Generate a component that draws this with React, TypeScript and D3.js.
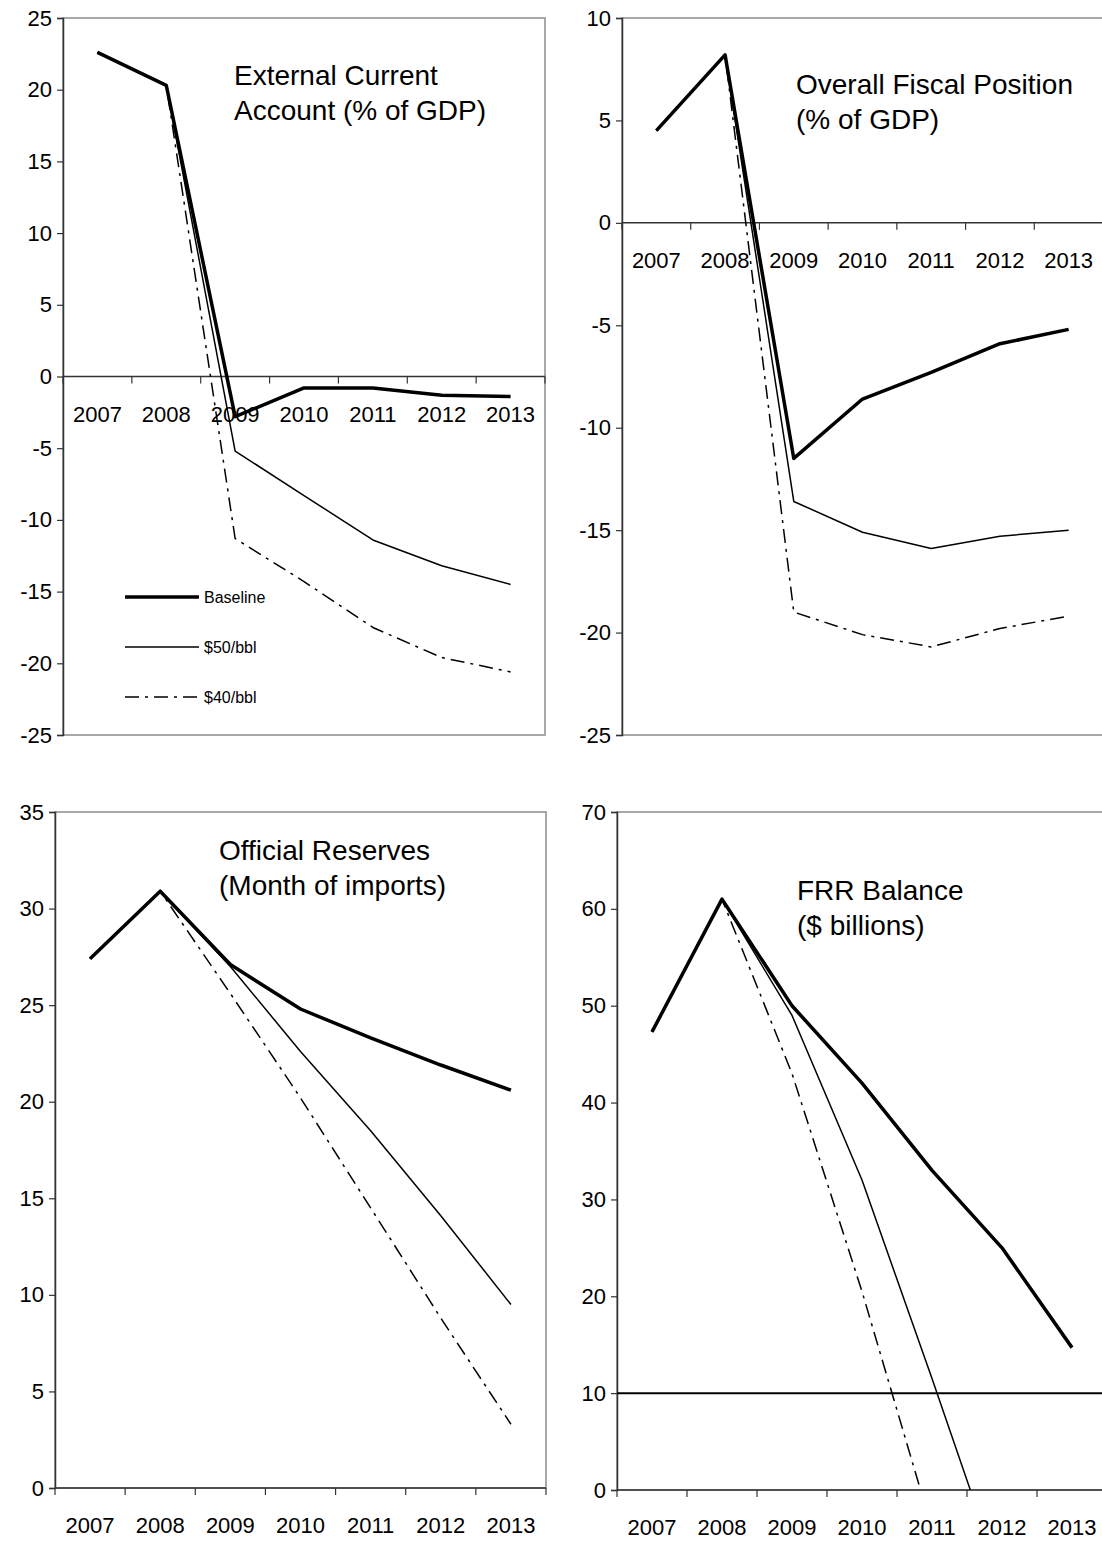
import React, { useEffect, useRef } from 'react'
import * as d3 from 'd3'

// categories
const years = ['2007', '2008', '2009', '2010', '2011', '2012', '2013']

// External current account (% of GDP)
const currentBaseline = [22.6, 20.3, -2.8, -0.8, -0.8, -1.3, -1.4]
const current50 = [22.6, 20.3, -5.2, -8.3, -11.4, -13.2, -14.5]
const current40 = [22.6, 20.3, -11.3, -14.3, -17.5, -19.6, -20.6]

// Overall fiscal position (% of GDP)
const fiscalBaseline = [4.5, 8.2, -11.5, -8.6, -7.3, -5.9, -5.2]
const fiscal50 = [4.5, 8.2, -13.6, -15.1, -15.9, -15.3, -15.0]
const fiscal40 = [4.5, 8.2, -19.0, -20.1, -20.7, -19.8, -19.2]

// Official reserves (months of imports)
const reservesBaseline = [27.4, 30.9, 27.1, 24.8, 23.3, 21.9, 20.6]
const reserves50 = [27.4, 30.9, 27.0, 22.6, 18.5, 14.1, 9.5]
const reserves40 = [27.4, 30.9, 25.6, 20.2, 14.5, 8.8, 3.3]

// FRR balance ($ billions) - below zero is clipped by the axis
const frrBaseline = [47.3, 61.0, 50.0, 42.0, 33.0, 25.0, 14.7]
const frr50 = [47.3, 61.0, 49.0, 32.0, 11.5, -9.5, null]
const frr40 = [47.3, 61.0, 43.0, 20.5, -4.0, null, null]

const seriesNames = ['Baseline', '$50/bbl', '$40/bbl']

type Panel = {
    title: string[]
    titleX: number
    titleY: number
    left: number
    right: number
    top: number
    bottom: number
    domain: [number, number]
    step: number
    series: (number | null)[][]
    refLine?: number
    legend?: boolean
}

const panels: Panel[] = [
    { title: ['External Current', 'Account (% of GDP)'], titleX: 234, titleY: 85, left: 63, right: 545, top: 18, bottom: 735, domain: [-25, 25], step: 5, series: [currentBaseline, current50, current40], legend: true },
    { title: ['Overall Fiscal Position', '(% of GDP)'], titleX: 796, titleY: 94, left: 622, right: 1103, top: 18, bottom: 735, domain: [-25, 10], step: 5, series: [fiscalBaseline, fiscal50, fiscal40] },
    { title: ['Official Reserves', '(Month of imports)'], titleX: 219, titleY: 860, left: 55, right: 546, top: 812, bottom: 1488, domain: [0, 35], step: 5, series: [reservesBaseline, reserves50, reserves40] },
    { title: ['FRR Balance', '($ billions)'], titleX: 797, titleY: 900, left: 617, right: 1107, top: 812, bottom: 1490, domain: [0, 70], step: 10, series: [frrBaseline, frr50, frr40], refLine: 10 },
]

const styles = [
    { width: 3.5, dash: null as string | null },
    { width: 1.5, dash: null as string | null },
    { width: 1.5, dash: '14,6,3,6' },
]

const font = '"Liberation Sans", Arial, sans-serif'

export default function App() {
    const d3Ref = useRef<SVGSVGElement>(null)

    useEffect(() => {
        const svg = d3.select(d3Ref.current!)
        svg.selectAll('*').remove()

        panels.forEach((p, pi) => {
            const g = svg.append('g')

            const x = d3.scaleBand<string>().domain(years).range([p.left, p.right]).padding(0)
            const y = d3.scaleLinear().domain(p.domain).range([p.bottom, p.top])
            const cx = (yr: string) => x(yr)! + x.bandwidth() / 2

            // clip for lines
            const clipId = 'clip' + pi
            svg.append('clipPath').attr('id', clipId)
                .append('rect')
                .attr('x', p.left).attr('y', p.top)
                .attr('width', p.right - p.left).attr('height', p.bottom - p.top)

            // plot area border
            g.append('rect')
                .attr('x', p.left).attr('y', p.top)
                .attr('width', p.right - p.left).attr('height', p.bottom - p.top)
                .attr('fill', 'none').attr('stroke', '#8c8c8c').attr('stroke-width', 1.5)

            // y axis
            const ticks = d3.range(p.domain[0], p.domain[1] + 0.001, p.step)
            const yAxis = g.append('g').attr('transform', `translate(${p.left},0)`)
                .call(d3.axisLeft(y).tickValues(ticks).tickSize(6).tickPadding(5).tickFormat(d => String(d)))
            yAxis.select('.domain').attr('stroke', '#333').attr('stroke-width', 1.5)
            yAxis.selectAll('.tick line').attr('stroke', '#333').attr('stroke-width', 1.2)
            yAxis.selectAll('.tick text').attr('font-family', font).attr('font-size', 22).attr('fill', '#000')

            // x axis at zero
            const y0 = y(0)
            g.append('line')
                .attr('x1', p.left).attr('x2', p.right)
                .attr('y1', y0).attr('y2', y0)
                .attr('stroke', '#333').attr('stroke-width', 1.5)
            const bounds = years.map(yr => x(yr)!).concat([p.right])
            g.selectAll('.xtick').data(bounds).enter().append('line')
                .attr('x1', d => d).attr('x2', d => d)
                .attr('y1', y0).attr('y2', y0 + 7)
                .attr('stroke', '#333').attr('stroke-width', 1.2)
            g.selectAll('.xlab').data(years).enter().append('text')
                .attr('x', d => cx(d)).attr('y', y0 + 45)
                .attr('text-anchor', 'middle')
                .attr('font-family', font).attr('font-size', 22)
                .text(d => d)

            if (p.refLine !== undefined) {
                g.append('line')
                    .attr('x1', p.left).attr('x2', p.right)
                    .attr('y1', y(p.refLine)).attr('y2', y(p.refLine))
                    .attr('stroke', '#000').attr('stroke-width', 2)
            }

            // title
            const t = g.append('text')
                .attr('x', p.titleX).attr('y', p.titleY)
                .attr('font-family', font).attr('font-size', 28)
            p.title.forEach((line, i) => {
                t.append('tspan').attr('x', p.titleX).attr('dy', i === 0 ? 0 : 35).text(line)
            })

            // series lines, thin ones first so the baseline sits on top
            const lineGen = d3.line<number | null>()
                .defined(d => d !== null)
                .x((_, i) => cx(years[i]))
                .y(d => y(d as number))

            const order = [2, 1, 0]
            order.forEach(si => {
                const path = g.append('path')
                    .datum(p.series[si])
                    .attr('clip-path', `url(#${clipId})`)
                    .attr('fill', 'none')
                    .attr('stroke', '#000')
                    .attr('stroke-width', styles[si].width)
                    .attr('stroke-linejoin', 'round')
                    .attr('d', lineGen)
                if (styles[si].dash) path.attr('stroke-dasharray', styles[si].dash)
            })

            if (p.legend) {
                const lg = g.append('g')
                seriesNames.forEach((name, si) => {
                    const ly = 597 + si * 50
                    const l = lg.append('line')
                        .attr('x1', 125).attr('x2', 199)
                        .attr('y1', ly).attr('y2', ly)
                        .attr('stroke', '#000')
                        .attr('stroke-width', styles[si].width)
                    if (styles[si].dash) l.attr('stroke-dasharray', styles[si].dash)
                    lg.append('text')
                        .attr('x', 204).attr('y', ly + 6)
                        .attr('font-family', font).attr('font-size', 16)
                        .text(name)
                })
            }
        })
    }, [])

    return (
        <div style={{ position: 'absolute', left: 0, top: 0, background: '#fff' }}>
            <svg ref={d3Ref} width={1102} height={1541} style={{ display: 'block' }}></svg>
        </div>
    )
}
